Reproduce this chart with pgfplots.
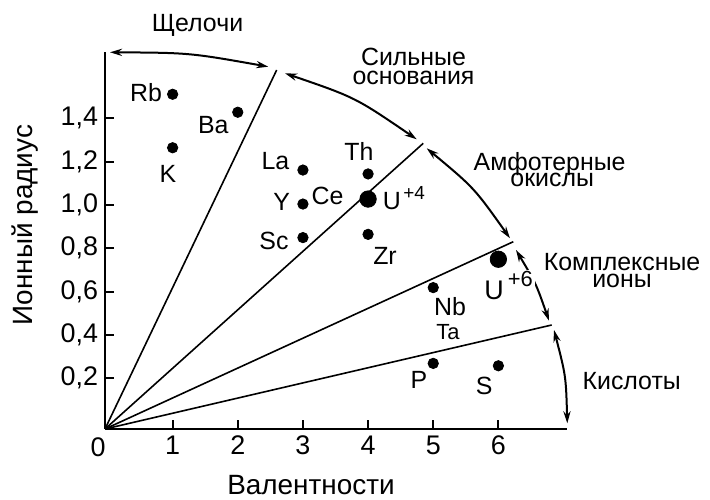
\documentclass[border=0pt]{standalone}
\usepackage{fontspec}
\setmainfont{Liberation Sans}
\usepackage{pgfplots}
\pgfplotsset{compat=1.18}
\usetikzlibrary{arrows.meta}

\newcommand\fs[1]{\fontsize{#1}{#1}\selectfont}

\begin{document}
\begin{tikzpicture}
\begin{axis}[
  at={(0,0)}, anchor=south west,
  x=32.575bp, y=108.25bp,
  xmin=-0.038, xmax=7.048, ymin=-0.035, ymax=1.708,
  axis lines*=left,
  axis line style={line width=1.2bp},
  tick align=inside, major tick length=4.5bp,
  tick style={line width=1bp, black},
  xtick={1,2,3,4,5,6},
  ytick={0.2,0.4,0.6,0.8,1.0,1.2,1.4},
  yticklabel style={/pgf/number format/.cd, use comma, fixed, fixed zerofill, precision=1},
  ticklabel style={font=\fs{13.5}},
  /pgf/number format/assume math mode=true,
  clip=false,
]
% boundaries between the sectors
\addplot[black, line width=0.8bp] coordinates {(-0.038,-0.035) (2.597,1.623)};
\addplot[black, line width=0.8bp] coordinates {(-0.038,-0.035) (4.847,1.2845)};
\addplot[black, line width=0.8bp] coordinates {(-0.038,-0.035) (6.229,0.830)};
\addplot[black, line width=0.8bp] coordinates {(-0.038,-0.035) (6.818,0.4453)};
% elements
\addplot[only marks, mark=*, mark size=2.6bp, black] coordinates {
  (1,1.511) (2,1.428) (1,1.264)
  (3,1.161) (3,1.004) (3,0.849)
  (4,1.143) (4,0.864)
  (5,0.618) (5,0.268) (6,0.257)};
\addplot[only marks, mark=*, mark size=4.1bp, black] coordinates {
  (4,1.027) (6,0.749)};
\end{axis}

\begin{scope}[x=0.5bp, y=-0.5bp, shift={(-105,-429)}]
\tikzset{arc/.style={line width=1bp,
  {Stealth[length=6bp,width=3.6bp]}-{Stealth[length=6bp,width=3.6bp]}},
  lab/.style={anchor=base, inner sep=0pt, font=\fs{12.5}},
  two/.style={anchor=north, inner sep=0pt, align=center,
    font={\fontsize{12.5}{#1}\selectfont\lineskiplimit=-20pt}}}
\draw[arc] (110,52.3) .. controls (189.8,52.8) .. (268.3,66.7);
\draw[arc] (285,73.3) .. controls (355.3,97.4) .. (416.7,139.3);
\draw[arc] (426.7,148.3) .. controls (474.2,187.9) .. (510,238.3);
\draw[arc] (516,250) .. controls (536.1,283.7) .. (549,320.7);
\draw[arc] (554,330) .. controls (565.9,376) .. (567.3,423.3);

\node[lab] at (197.5,31.7) {Щелочи};
\node[two=9.15] at (413.5,48) {Сильные\\основания};
\node[two=8, anchor=north west, align=left] at (473.3,151.7)
  {Амфотерные\\\hspace*{18.35bp}окислы};
\node[two=8.35] at (622,253) {Комплексные\\ионы};
\node[lab] at (631.7,390) {Кислоты};

\node[lab, font=\fs{14}] at (311,495) {Валентности};
\node[lab, font=\fs{14}, rotate=90] at (33,225) {Ионный радиус};
\node[lab, font=\fs{13.5}] at (98,456.7) {0};

\node[lab] at (146,101.7) {Rb};
\node[lab] at (213.3,133.3) {Ba};
\node[lab] at (168,182.7) {K};
\node[lab] at (275.5,170) {La};
\node[lab] at (281.7,210.7) {Y};
\node[lab] at (327.5,205) {Ce};
\node[lab] at (274,250) {Sc};
\node[lab] at (359,161) {Th};
\node[lab] at (385,265) {Zr};
\node[lab] at (450,316) {Nb};
\node[lab, font=\fs{11}] at (448,339.3) {Ta};
\node[lab] at (419,388.3) {P};
\node[lab] at (484.2,395) {S};
\node[lab, anchor=base west] at (382.5,209.3) {U};
\node[lab, anchor=base west, font=\fs{9.5}] at (403,199.5) {+4};
\node[lab, anchor=base west, font=\fs{13.5}] at (484,300) {U};
\node[lab, anchor=base west, font=\fs{11}, fill=white, inner sep=1bp] at (505.5,287) {+6};

\pgfresetboundingbox
\path[use as bounding box] (0,0) rectangle (710,500);
\end{scope}
\end{tikzpicture}
\end{document}
